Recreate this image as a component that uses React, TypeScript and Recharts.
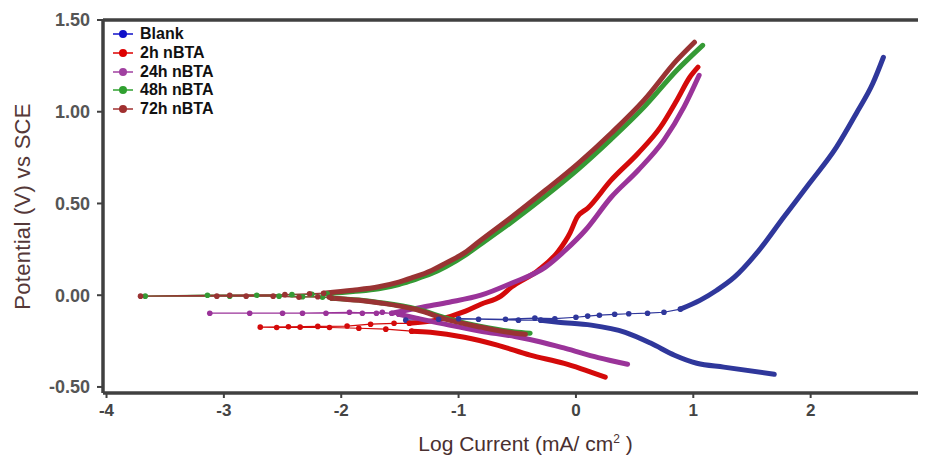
import { ComposedChart, Line, XAxis, YAxis, Legend, ReferenceLine, Label } from "recharts";

// axis ticks
const X_TICKS = [-4, -3, -2, -1, 0, 1, 2, 3];
const Y_TICKS = [-0.5, 0, 0.5, 1, 1.5];

// Blank
const blankCathodic = [
  { x: 1.69, y: -0.431 }, { x: 1.26, y: -0.392 }, { x: 1.03, y: -0.371 }, { x: 0.84, y: -0.327 },
  { x: 0.64, y: -0.262 }, { x: 0.42, y: -0.202 }, { x: 0.13, y: -0.163 }, { x: -0.15, y: -0.147 },
  { x: -0.3, y: -0.136 },
];
const blankEcorr = [
  { x: -0.3, y: -0.136 }, { x: -0.49, y: -0.136 }, { x: -0.83, y: -0.131 }, { x: -1.17, y: -0.131 },
  { x: -1.45, y: -0.136 }, { x: -1.0, y: -0.128 }, { x: -0.6, y: -0.131 }, { x: -0.35, y: -0.125 },
  { x: -0.18, y: -0.128 }, { x: 0.0, y: -0.12 }, { x: 0.1, y: -0.114 }, { x: 0.2, y: -0.109 },
  { x: 0.33, y: -0.104 }, { x: 0.45, y: -0.101 }, { x: 0.61, y: -0.098 }, { x: 0.75, y: -0.093 },
  { x: 0.89, y: -0.076 },
];
const blankAnodic = [
  { x: 0.89, y: -0.076 }, { x: 1.06, y: -0.027 }, { x: 1.2, y: 0.027 }, { x: 1.35, y: 0.098 },
  { x: 1.54, y: 0.229 }, { x: 1.77, y: 0.425 }, { x: 1.99, y: 0.61 }, { x: 2.22, y: 0.807 },
  { x: 2.39, y: 0.992 }, { x: 2.53, y: 1.155 }, { x: 2.62, y: 1.297 },
];

// 2h nBTA
const h2Cathodic = [
  { x: 0.25, y: -0.447 }, { x: 0.04, y: -0.4 }, { x: -0.1, y: -0.372 }, { x: -0.39, y: -0.327 },
  { x: -0.67, y: -0.272 }, { x: -0.95, y: -0.229 }, { x: -1.24, y: -0.202 }, { x: -1.4, y: -0.196 },
];
const h2Ecorr = [
  { x: -1.4, y: -0.196 }, { x: -1.62, y: -0.185 }, { x: -1.85, y: -0.18 }, { x: -2.1, y: -0.176 },
  { x: -2.35, y: -0.174 }, { x: -2.55, y: -0.176 }, { x: -2.69, y: -0.174 }, { x: -2.45, y: -0.172 },
  { x: -2.2, y: -0.17 }, { x: -1.95, y: -0.168 }, { x: -1.75, y: -0.158 }, { x: -1.55, y: -0.153 },
  { x: -1.42, y: -0.153 },
];
const h2Anodic = [
  { x: -1.42, y: -0.153 }, { x: -1.19, y: -0.136 }, { x: -0.94, y: -0.087 }, { x: -0.81, y: -0.049 },
  { x: -0.64, y: -0.005 }, { x: -0.55, y: 0.044 }, { x: -0.32, y: 0.136 }, { x: -0.15, y: 0.24 },
  { x: -0.05, y: 0.34 }, { x: 0.01, y: 0.425 }, { x: 0.1, y: 0.474 }, { x: 0.3, y: 0.627 },
  { x: 0.53, y: 0.774 }, { x: 0.72, y: 0.916 }, { x: 0.86, y: 1.063 }, { x: 0.97, y: 1.188 },
  { x: 1.04, y: 1.243 },
];

// 24h nBTA
const h24Cathodic = [
  { x: 0.44, y: -0.376 }, { x: 0.19, y: -0.34 }, { x: -0.09, y: -0.29 }, { x: -0.3, y: -0.255 },
  { x: -0.52, y: -0.225 }, { x: -0.81, y: -0.196 }, { x: -1.08, y: -0.163 }, { x: -1.36, y: -0.125 },
  { x: -1.51, y: -0.104 },
];
const h24Ecorr = [
  { x: -1.51, y: -0.104 }, { x: -1.65, y: -0.093 }, { x: -1.82, y: -0.098 }, { x: -2.13, y: -0.098 },
  { x: -2.5, y: -0.098 }, { x: -2.78, y: -0.098 }, { x: -3.12, y: -0.098 }, { x: -2.33, y: -0.098 },
  { x: -1.93, y: -0.093 }, { x: -1.7, y: -0.098 }, { x: -1.57, y: -0.098 },
];
const h24Anodic = [
  { x: -1.57, y: -0.098 }, { x: -1.31, y: -0.065 }, { x: -1.08, y: -0.038 }, { x: -0.81, y: 0.0 },
  { x: -0.55, y: 0.065 }, { x: -0.26, y: 0.153 }, { x: -0.09, y: 0.245 }, { x: 0.08, y: 0.354 },
  { x: 0.3, y: 0.534 }, { x: 0.53, y: 0.681 }, { x: 0.75, y: 0.845 }, { x: 0.92, y: 1.025 },
  { x: 1.05, y: 1.199 },
];

// 48h nBTA
const h48Cathodic = [
  { x: -0.39, y: -0.207 }, { x: -0.52, y: -0.2 }, { x: -0.81, y: -0.17 }, { x: -1.08, y: -0.13 },
  { x: -1.36, y: -0.075 }, { x: -1.65, y: -0.042 }, { x: -1.85, y: -0.026 }, { x: -2.08, y: -0.016 },
];
const h48Ecorr = [
  { x: -2.08, y: -0.016 }, { x: -2.16, y: -0.011 }, { x: -2.33, y: -0.008 }, { x: -2.53, y: -0.005 },
  { x: -2.95, y: -0.005 }, { x: -3.67, y: -0.005 }, { x: -3.14, y: 0.0 }, { x: -2.72, y: 0.0 },
  { x: -2.42, y: 0.003 }, { x: -2.25, y: 0.005 }, { x: -2.12, y: 0.008 },
];
const h48Anodic = [
  { x: -2.12, y: 0.008 }, { x: -1.9, y: 0.02 }, { x: -1.68, y: 0.035 }, { x: -1.51, y: 0.058 },
  { x: -1.4, y: 0.08 }, { x: -1.23, y: 0.118 }, { x: -1.11, y: 0.155 }, { x: -0.94, y: 0.22 },
  { x: -0.83, y: 0.27 }, { x: -0.55, y: 0.398 }, { x: -0.26, y: 0.54 }, { x: 0.02, y: 0.687 },
  { x: 0.3, y: 0.85 }, { x: 0.58, y: 1.025 }, { x: 0.86, y: 1.226 }, { x: 1.08, y: 1.362 },
];

// 72h nBTA
const h72Cathodic = [
  { x: -0.43, y: -0.213 }, { x: -0.52, y: -0.207 }, { x: -0.81, y: -0.174 }, { x: -1.08, y: -0.136 },
  { x: -1.36, y: -0.078 }, { x: -1.65, y: -0.044 }, { x: -1.85, y: -0.028 }, { x: -2.08, y: -0.016 },
];
const h72Ecorr = [
  { x: -2.08, y: -0.016 }, { x: -2.1, y: -0.011 }, { x: -2.2, y: -0.008 }, { x: -2.36, y: -0.011 },
  { x: -2.58, y: -0.005 }, { x: -2.81, y: -0.005 }, { x: -3.06, y: -0.005 }, { x: -3.71, y: -0.005 },
  { x: -2.95, y: 0.0 }, { x: -2.48, y: 0.003 }, { x: -2.27, y: 0.008 }, { x: -2.15, y: 0.011 },
];
const h72Anodic = [
  { x: -2.15, y: 0.011 }, { x: -1.9, y: 0.027 }, { x: -1.68, y: 0.046 }, { x: -1.51, y: 0.071 },
  { x: -1.4, y: 0.094 }, { x: -1.23, y: 0.135 }, { x: -1.11, y: 0.175 }, { x: -0.94, y: 0.235 },
  { x: -0.83, y: 0.29 }, { x: -0.55, y: 0.425 }, { x: -0.26, y: 0.572 }, { x: 0.02, y: 0.719 },
  { x: 0.3, y: 0.883 }, { x: 0.58, y: 1.063 }, { x: 0.86, y: 1.281 }, { x: 1.01, y: 1.379 },
];

const SERIES = [
  { name: "Blank", cathodic: blankCathodic, ecorr: blankEcorr, anodic: blankAnodic, color: "#2f379b", key: "#1010c8" },
  { name: "2h nBTA", cathodic: h2Cathodic, ecorr: h2Ecorr, anodic: h2Anodic, color: "#d40a0a", key: "#dd0000" },
  { name: "24h nBTA", cathodic: h24Cathodic, ecorr: h24Ecorr, anodic: h24Anodic, color: "#9a3399", key: "#a040a0" },
  { name: "48h nBTA", cathodic: h48Cathodic, ecorr: h48Ecorr, anodic: h48Anodic, color: "#359a35", key: "#30a030" },
  { name: "72h nBTA", cathodic: h72Cathodic, ecorr: h72Ecorr, anodic: h72Anodic, color: "#993333", key: "#a03030" },
];

const FONT = "'Liberation Sans', Arial, sans-serif";
const AXIS = "#404040";

function TafelLegend() {
  return (
    <div style={{ fontFamily: FONT, fontWeight: "bold", fontSize: 16, color: "#111" }}>
      {SERIES.map((s) => (
        <div key={s.name} style={{ display: "flex", alignItems: "center", height: 18.8 }}>
          <svg width={22} height={10} style={{ display: "block" }}>
            <line x1={0} y1={5} x2={20} y2={5} stroke={s.key} strokeWidth={1.5} />
            <circle cx={10} cy={5} r={4} fill={s.key} />
          </svg>
          <span style={{ marginLeft: 5 }}>{s.name}</span>
        </div>
      ))}
    </div>
  );
}

function YTitle(props: any) {
  const vb = props.viewBox || { x: 0, y: 12, width: 95, height: 373 };
  const x = vb.x + 14;
  const y = vb.y + vb.height / 2;
  return (
    <text x={x} y={y} transform={`rotate(-90, ${x}, ${y})`} textAnchor="middle" dominantBaseline="central"
      fontFamily={FONT} fontSize={22} fill="#553838" letterSpacing={0.3}>
      Potential (V) vs SCE
    </text>
  );
}

function XTitle(props: any) {
  const vb = props.viewBox || { x: 95, y: 385, width: 825, height: 50 };
  const x = vb.x + vb.width / 2 + 10;
  const y = vb.y + 58;
  return (
    <text x={x} y={y} textAnchor="middle" fontFamily={FONT} fontSize={21} fill="#4a3030">
      Log Current (mA/ cm<tspan dy={-8} fontSize={12}>2</tspan><tspan dy={8}> )</tspan>
    </text>
  );
}

export default function App() {
  return (
    <div style={{ width: 918, height: 447, overflow: "hidden" }}>
      <ComposedChart width={935} height={447} margin={{ top: 12, right: 15, bottom: 12, left: 0 }}>
        <XAxis type="number" dataKey="x" domain={[-4.03, 3]} ticks={X_TICKS} allowDataOverflow
          axisLine={{ stroke: AXIS, strokeWidth: 3.5 }} tickLine={{ stroke: AXIS, strokeWidth: 2 }}
          tickSize={5} tickMargin={6} height={50}
          tick={{ fontFamily: FONT, fontWeight: "bold", fontSize: 17, fill: "#444" }}>
          <Label content={<XTitle />} />
        </XAxis>
        <YAxis type="number" dataKey="y" domain={[-0.533, 1.5]} ticks={Y_TICKS} allowDataOverflow
          axisLine={{ stroke: AXIS, strokeWidth: 3.5 }} tickLine={{ stroke: AXIS, strokeWidth: 2 }}
          tickSize={6} tickMargin={7} width={95} tickFormatter={(v) => Number(v).toFixed(2)}
          tick={{ fontFamily: FONT, fontWeight: "bold", fontSize: 18, fill: "#555" }}>
          <Label content={<YTitle />} />
        </YAxis>
        <ReferenceLine y={1.5} stroke={AXIS} strokeWidth={3.5} />
        {SERIES.map((s) => [
          <Line key={s.name + "-e"} data={s.ecorr} dataKey="y" type="linear" stroke={s.color} strokeWidth={1.2}
            dot={{ r: 2.8, fill: s.color, stroke: "none" }} legendType="none" isAnimationActive={false} />,
          <Line key={s.name + "-c"} data={s.cathodic} dataKey="y" type="monotone" stroke={s.color} strokeWidth={5}
            strokeLinecap="round" dot={false} legendType="none" isAnimationActive={false} />,
          <Line key={s.name + "-a"} data={s.anodic} dataKey="y" type="monotone" stroke={s.color} strokeWidth={5}
            strokeLinecap="round" dot={false} legendType="none" isAnimationActive={false} />,
        ])}
        <Legend content={<TafelLegend />} layout="vertical" align="center" verticalAlign="middle"
          wrapperStyle={{ left: 105, top: 16.6, width: 160 }} />
      </ComposedChart>
    </div>
  );
}
